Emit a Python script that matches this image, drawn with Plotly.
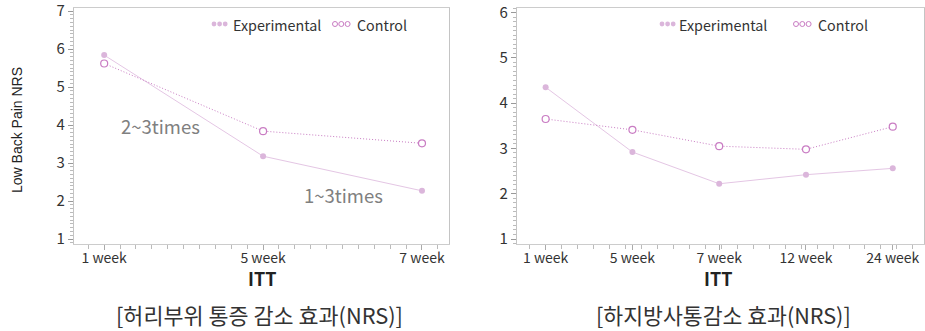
import plotly.graph_objects as go

# ---- data ----
lbp_weeks = ["1 week", "5 week", "7 week"]
lbp_experimental = [5.84, 3.18, 2.27]
lbp_control = [5.62, 3.84, 3.52]

leg_weeks = ["1 week", "5 week", "7 week", "12 week", "24 week"]
leg_experimental = [4.35, 2.92, 2.22, 2.42, 2.56]
leg_control = [3.65, 3.41, 3.05, 2.98, 3.48]

series_names = ["Experimental", "Control"]
captions = ["[허리부위 통증 감소 효과(NRS)]", "[하지방사통감소 효과(NRS)]"]
y_title = "Low Back Pain NRS"
x_title = "ITT"
notes = ["2~3times", "1~3times"]

W, H = 925, 331
FONT = "Noto Sans CJK KR"
EXP_LINE = "#e4c6e4"
EXP_MARK = "#dbb6db"
CTL_COLOR = "#c97cc3"

fig = go.Figure()

def add_panel(weeks, exp, ctl, xa, ya):
    xs = list(range(len(weeks)))
    fig.add_trace(go.Scatter(x=xs, y=exp, mode="lines+markers", name=series_names[0],
                             line=dict(color=EXP_LINE, width=1),
                             marker=dict(color=EXP_MARK, size=6),
                             xaxis=xa, yaxis=ya, showlegend=False))
    fig.add_trace(go.Scatter(x=xs, y=ctl, mode="lines+markers", name=series_names[1],
                             line=dict(color=CTL_COLOR, width=1, dash="1px,2px"),
                             marker=dict(color="white", size=7, symbol="circle",
                                         line=dict(color=CTL_COLOR, width=1.2)),
                             xaxis=xa, yaxis=ya, showlegend=False))

add_panel(lbp_weeks, lbp_experimental, lbp_control, "x", "y")
add_panel(leg_weeks, leg_experimental, leg_control, "x2", "y2")

def px_x(v):
    return v / W

def px_y(v):
    return 1 - v / H

ydom = [px_y(244), px_y(8)]

def xaxis_cfg(dom, rng, weeks, minor_dt, anchor):
    return dict(domain=dom, range=rng, anchor=anchor, automargin=False,
                tickmode="array", tickvals=list(range(len(weeks))), ticktext=weeks,
                ticks="outside", ticklen=5, tickcolor="#aaaaaa", tickwidth=1,
                ticklabelstandoff=-4, ticklabeloverflow="allow",
                minor=dict(ticks="outside", ticklen=4, tickmode="linear", tick0=0,
                           dtick=minor_dt, tickcolor="#bbbbbb", tickwidth=1),
                showline=True, linecolor="#cccccc", linewidth=1.2, mirror=True,
                showgrid=False, zeroline=False,
                tickfont=dict(family=FONT, size=14, color="#333333"))

def yaxis_cfg(rng, anchor):
    return dict(domain=ydom, range=rng, anchor=anchor, dtick=1, tick0=0, automargin=False,
                ticks="outside", ticklen=5, tickcolor="#999999", tickwidth=1,
                ticklabeloverflow="allow",
                minor=dict(ticks="outside", ticklen=3, dtick=0.1, tick0=0,
                           tickcolor="#bbbbbb", tickwidth=1),
                showline=True, linecolor="#c4c4c4", linewidth=1.2, mirror=True,
                showgrid=False, zeroline=False,
                tickfont=dict(family=FONT, size=15, color="#333333"))

fig.update_layout(
    width=W, height=H,
    margin=dict(l=0, r=0, t=0, b=0, autoexpand=False),
    paper_bgcolor="white", plot_bgcolor="white",
    showlegend=False,
    xaxis=xaxis_cfg([px_x(74), px_x(449)], [-0.19, 2.17], lbp_weeks, 0.1, "y"),
    yaxis=yaxis_cfg([0.87, 7.08], "x"),
    xaxis2=xaxis_cfg([px_x(517), px_x(924)], [-0.33, 4.36], leg_weeks, 0.184, "y2"),
    yaxis2=yaxis_cfg([0.89, 6.10], "x2"),
)

ann = []

def text_at(text, x, y, size, color, family=FONT, xanchor="center", angle=0):
    ann.append(dict(text=text, x=px_x(x), y=px_y(y), xref="paper", yref="paper",
                    xanchor=xanchor, yanchor="middle", textangle=angle, showarrow=False,
                    font=dict(family=family, size=size, color=color)))

# y-axis title
text_at(y_title, 17, 130, 14, "#222222", family="Liberation Sans", angle=-90)
# x titles and captions
text_at("<b>" + x_title + "</b>", 262, 278, 18, "#222222")
text_at("<b>" + x_title + "</b>", 718, 278, 18, "#222222")
text_at(captions[0], 259, 314, 21.8, "#333333")
text_at(captions[1], 723, 314, 21.6, "#333333")
# notes (data coordinates)
ann.append(dict(text=notes[0], x=0.354, y=3.97, xref="x", yref="y", showarrow=False,
                font=dict(family=FONT, size=18.5, color="#808080")))
ann.append(dict(text=notes[1], x=1.506, y=2.16, xref="x", yref="y", showarrow=False,
                font=dict(family=FONT, size=18.5, color="#808080")))

# custom legends
shapes = []
def legend(dot_start, ctl_start, exp_text_x, ctl_text_x, ly=24):
    for i in range(3):
        cx = dot_start + i * 5.6
        shapes.append(dict(type="circle", xref="paper", yref="paper",
                           x0=px_x(cx - 2.4), x1=px_x(cx + 2.4),
                           y0=px_y(ly + 2.4), y1=px_y(ly - 2.4),
                           fillcolor=EXP_MARK, line=dict(width=0)))
        cx = ctl_start + i * 6.3
        shapes.append(dict(type="circle", xref="paper", yref="paper",
                           x0=px_x(cx - 2.5), x1=px_x(cx + 2.5),
                           y0=px_y(ly + 2.5), y1=px_y(ly - 2.5),
                           fillcolor="white", line=dict(width=1, color=CTL_COLOR)))
    text_at(series_names[0], exp_text_x, ly, 14.3, "#333333", xanchor="left")
    text_at(series_names[1], ctl_text_x, ly, 14.3, "#333333", xanchor="left")

legend(214, 335, 231, 355)
legend(662, 796, 677, 816)

fig.update_layout(annotations=ann, shapes=shapes)
fig.write_html("out.html", config={"displayModeBar": False},
               post_script="document.body.style.margin='0px';")
